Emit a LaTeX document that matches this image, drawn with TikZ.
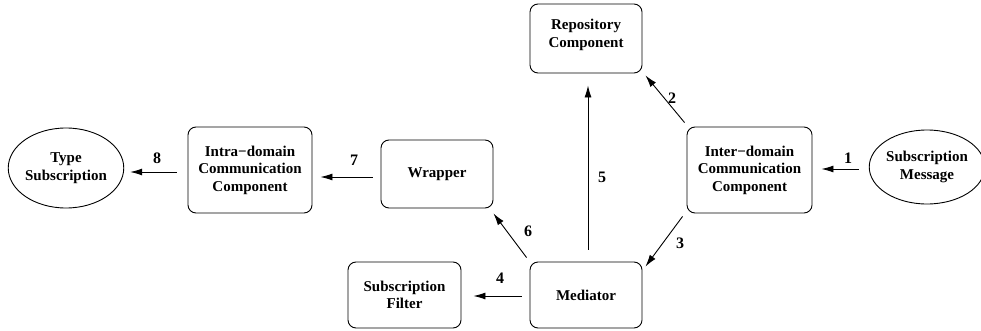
\documentclass[tikz,border=0pt]{standalone}
\usepackage{fontspec}
\setmainfont{Liberation Serif}
\usetikzlibrary{shapes.geometric,arrows.meta}
\begin{document}
\begin{tikzpicture}[x=1pt,y=1pt,
  every node/.style={font=\fontsize{15}{17.5}\selectfont\bfseries, align=center},
  box/.style={draw, line width=0.9pt, rounded corners=8pt, minimum width=#1, inner sep=0pt},
  ell/.style={draw, line width=0.9pt, ellipse, inner sep=0pt},
  arr/.style={-{Latex[length=12pt,width=7pt]}, line width=0.9pt},
  lbl/.style={font=\fontsize{16}{18}\selectfont\bfseries}]
\useasboundingbox (0,0) rectangle (981,330);
\node[ell, minimum width=113, minimum height=80] (ts) at (66,162) {Type\\Subscription};
\node[box=124, minimum height=86] (intra) at (250,160) {Intra−domain\\Communication\\Component};
\node[box=112, minimum height=68] (wrap) at (437,156) {Wrapper};
\node[box=112, minimum height=69] (repo) at (586,291.5) {};
\node (repot) at (586,295) {Repository\\Component};
\node[box=112, minimum height=66] (med) at (586,35) {Mediator};
\node[box=113, minimum height=66] (filt) at (404.5,35) {Subscription\\Filter};
\node[box=125, minimum height=86] (inter) at (749.5,160) {Inter−domain\\Communication\\Component};
\node[ell, minimum width=100, minimum height=74] (sm) at (927,163) {Subscription\\Message};
\draw[arr] ([xshift=-10pt,yshift=-2pt]sm.west) -- ([xshift=9pt,yshift=1pt]inter.east);
\draw[arr] ([xshift=-2pt,yshift=4pt]inter.north west) -- ([xshift=3pt,yshift=-2pt]repo.south east);
\draw[arr] ([xshift=-4pt,yshift=-3pt]inter.south west) -- ([xshift=3pt,yshift=-5pt]med.north east);
\draw[arr] ([xshift=-8pt,yshift=-1pt]med.west) -- ([xshift=12pt,yshift=-1pt]filt.east);
\draw[arr] ([xshift=2pt,yshift=12pt]med.north) -- ([xshift=2pt,yshift=-12pt]repo.south);
\draw[arr] ([xshift=-3pt,yshift=4pt]med.north west) -- ([yshift=-5pt]wrap.south east);
\draw[arr] ([xshift=-8pt,yshift=-3pt]wrap.west) -- ([xshift=8pt,yshift=-7pt]intra.east);
\draw[arr] ([xshift=-11pt,yshift=-2pt]intra.west) -- ([xshift=6pt,yshift=-4pt]ts.east);
\node[lbl] (l1) at (848,172) {1};
\node[lbl] (l2) at (672,232) {2};
\node[lbl] (l3) at (680,87) {3};
\node[lbl] (l4) at (500,52) {4};
\node[lbl] (l5) at (602,153) {5};
\node[lbl] (l6) at (528,99) {6};
\node[lbl] (l7) at (354,170) {7};
\node[lbl] (l8) at (157,172) {8};
\end{tikzpicture}
\end{document}
